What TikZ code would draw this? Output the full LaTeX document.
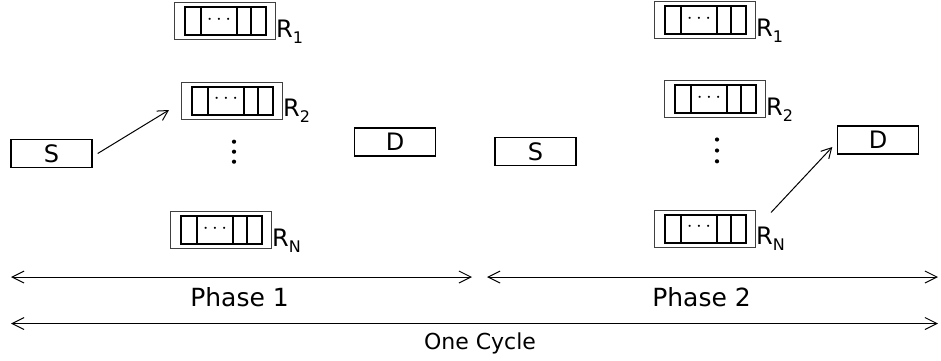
\documentclass[tikz,border=0pt]{standalone}
\usepackage{fontspec}
\setmainfont{DejaVu Sans}
\usetikzlibrary{arrows.meta}
\tikzset{
  qouter/.style={draw=black!75, line width=1pt, minimum width=101pt, minimum height=37pt, inner sep=0pt},
  qinner/.style={draw=black, line width=2pt},
  endbox/.style={draw=black, line width=1.4pt, minimum width=81pt, minimum height=28pt, inner sep=0pt, font=\fontsize{24}{28}\selectfont},
  rlabel/.style={anchor=base west, inner sep=0pt, font=\fontsize{24}{28}\selectfont},
  conn/.style={line width=1pt, -{Straight Barb[length=10pt,width=11pt]}},
  span/.style={line width=1pt, {Straight Barb[length=12pt,width=12pt]}-{Straight Barb[length=12pt,width=12pt]}},
  phaselabel/.style={anchor=base, inner sep=0pt, font=\fontsize{25}{30}\selectfont},
  vdot/.style={circle, fill=black, inner sep=0pt, minimum size=4.2pt},
  queue/.pic={
    \node[qouter] (-box) at (0,0) {};
    \draw[qinner] (-40.5,-14) rectangle (40.5,14);
    \draw[qinner] (-23.8,-14) -- (-23.8,14) (12,-14) -- (12,14) (26,-14) -- (26,14);
    \node[inner sep=0pt, font=\fontsize{20}{20}\selectfont] (-dots) at (-6,-1.5) {$\cdots$};
    \node[rlabel] (-lab) at ([yshift=-16pt]-box.east) {R\raisebox{-6pt}{\fontsize{16}{16}\selectfont #1}};
  }
}
\begin{document}
\begin{tikzpicture}[x=1pt,y=-1pt]
  \useasboundingbox[fill=white] (0,0) rectangle (941,360);

  % Phase 1
  \pic (ra1) at (225,21) {queue=1};
  \pic (ra2) at (232,100.5) {queue=2};
  \pic (ran) at (221,230) {queue=N};
  \node[vdot] (da1) at (234,141.7) {};
  \node[vdot] (da2) at (234,151.7) {};
  \node[vdot] (da3) at (234,161.7) {};
  \node[endbox] (s1) at (51.5,153.5) {S};
  \node[endbox] (d1) at (395,142) {D};
  \draw[conn] ([xshift=5pt]s1.east) -- ([xshift=-12pt,yshift=-9.5pt]ra2-box.west);

  % Phase 2
  \pic (rb1) at (705,20) {queue=1};
  \pic (rb2) at (715,99) {queue=2};
  \pic (rbn) at (705,228.5) {queue=N};
  \node[vdot] (db1) at (717,139.5) {};
  \node[vdot] (db2) at (717,150.5) {};
  \node[vdot] (db3) at (717,161.3) {};
  \node[endbox] (s2) at (535.5,151.5) {S};
  \node[endbox] (d2) at (878,140) {D};
  \draw[conn] ([xshift=15pt,yshift=-3pt]rbn-box.north east) -- ([xshift=-4.5pt,yshift=-7pt]d2.west);

  % spans
  \coordinate (p1l) at (11,277);
  \coordinate (p1r) at (472,277);
  \coordinate (p2l) at (487,277);
  \coordinate (p2r) at (938,277);
  \coordinate (cl) at (11,323.5);
  \coordinate (cr) at (938,323.5);
  \draw[span] (p1l) -- (p1r);
  \draw[span] (p2l) -- (p2r);
  \draw[span] (cl) -- (cr);
  \node[phaselabel] (ph1) at (239.5,306) {Phase 1};
  \node[phaselabel] (ph2) at (701.5,306) {Phase 2};
  \node[phaselabel, font=\fontsize{22}{26}\selectfont] (cyc) at (480,349) {One Cycle};
\end{tikzpicture}
\end{document}
